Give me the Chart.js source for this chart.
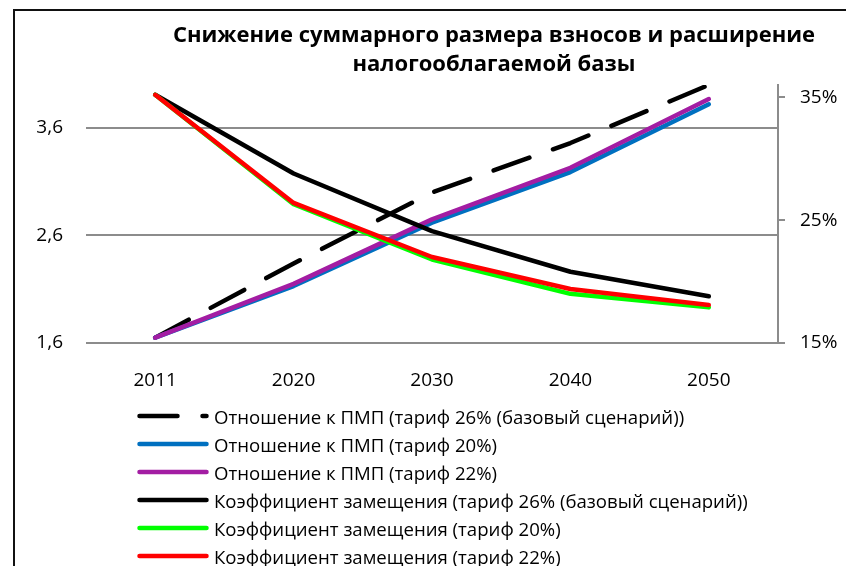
<!DOCTYPE html>
<html lang="ru">
<head>
<meta charset="utf-8">
<script src="https://cdn.jsdelivr.net/npm/chart.js@4.4.1/dist/chart.umd.min.js"></script>
<style>
  body { margin: 0; background: #fff; }
  #wrap { position: relative; width: 846px; height: 566px; overflow: hidden; font-family: "Open Sans", sans-serif; }
  #frame { position: absolute; left: 13px; top: 9px; width: 900px; height: 700px; border: 2px solid #111; }
  #title { position: absolute; left: 494px; top: 19px; transform: translateX(-50%); white-space: nowrap;
           text-align: center; font-weight: bold; font-size: 22px; line-height: 29px; color: #000; }
  canvas { position: absolute; left: 0; top: 0; }
  #legend { position: absolute; left: 137px; top: 402px; }
  .item { display: flex; align-items: center; height: 28px; font-size: 18.6px; color: #000; white-space: nowrap; }
  .item svg { margin-right: 5px; }
</style>
</head>
<body>
<div id="wrap">
  <div id="frame"></div>
  <canvas id="line-chart" width="846" height="566"></canvas>
  <div id="title">Снижение суммарного размера взносов и расширение<br>налогооблагаемой базы</div>
  <div id="legend"></div>
</div>
<script>
const years = ['2011', '2020', '2030', '2040', '2050'];

// отношение к ПМП (левая ось)
const pmp26 = [1.65, 2.34, 3.00, 3.46, 4.00];
const pmp20 = [1.65, 2.13, 2.72, 3.19, 3.82];
const pmp22 = [1.65, 2.15, 2.75, 3.23, 3.87];

// коэффициент замещения, % (правая ось)
const zam26 = [35.2, 28.8, 24.1, 20.8, 18.8];
const zam20 = [35.2, 26.3, 21.8, 19.0, 17.9];
const zam22 = [35.2, 26.4, 22.0, 19.4, 18.1];

const leftTicks = [1.6, 2.6, 3.6];
const rightTicks = [15, 25, 35];

const font = { family: 'Open Sans', size: 19 };
const gridGray = '#8c8c8c';

function series(label, data, color, axis, dash) {
  return {
    label: label,
    data: data,
    yAxisID: axis,
    borderColor: color,
    backgroundColor: color,
    borderWidth: 4.5,
    borderDash: dash || [],
    borderCapStyle: 'round',
    borderJoinStyle: 'round',
    pointRadius: 0,
    tension: 0,
    fill: false,
  };
}

const datasets = [
  series('Отношение к ПМП (тариф 26% (базовый сценарий))', pmp26, '#000000', 'y', [38, 25]),
  series('Отношение к ПМП (тариф 20%)', pmp20, '#0070C0', 'y'),
  series('Отношение к ПМП (тариф 22%)', pmp22, '#A31DA3', 'y'),
  series('Коэффициент замещения (тариф 26% (базовый сценарий))', zam26, '#000000', 'y1'),
  series('Коэффициент замещения (тариф 20%)', zam20, '#00FF00', 'y1'),
  series('Коэффициент замещения (тариф 22%)', zam22, '#FF0000', 'y1'),
];
// later series drawn on top, like Excel
datasets.forEach((d, i) => { d.order = datasets.length - i; });

const ctx = document.getElementById('line-chart').getContext('2d');

const chart = new Chart(ctx, {
  type: 'line',
  data: { labels: years, datasets: datasets },
  options: {
    responsive: false,
    animation: false,
    layout: { padding: { left: 26, right: 8, top: 85, bottom: 163 } },
    plugins: { legend: { display: false }, tooltip: { enabled: false } },
    scales: {
      x: {
        offset: true,
        grid: { display: false },
        border: { display: false },
        ticks: { color: '#000', font: font, padding: 18, maxRotation: 0, autoSkip: false },
        afterFit: s => { s.height = 60; },
      },
      y: {
        position: 'left',
        min: 1.6,
        max: 4.0,
        afterBuildTicks: s => { s.ticks = leftTicks.map(v => ({ value: v })); },
        grid: { color: gridGray, lineWidth: 2, drawTicks: false },
        border: { display: false },
        ticks: { color: '#000', font: font, padding: 23,
                 callback: v => v.toFixed(1).replace('.', ',') },
        afterFit: s => { s.width = 60; },
      },
      y1: {
        position: 'right',
        min: 15,
        max: 36,
        afterBuildTicks: s => { s.ticks = rightTicks.map(v => ({ value: v })); },
        grid: { drawOnChartArea: false, drawTicks: true, tickLength: 7, color: gridGray, lineWidth: 2 },
        border: { display: true, color: gridGray, width: 2 },
        ticks: { color: '#000', font: font, padding: 15, callback: v => v + '%' },
        afterFit: s => { s.width = 60; },
      },
    },
  },
});

// legend as a single column under the chart
const legend = document.getElementById('legend');
chart.data.datasets.forEach(d => {
  const row = document.createElement('div');
  row.className = 'item';
  const dash = d.borderDash.length ? ' stroke-dasharray="' + d.borderDash.join(' ') + '"' : '';
  row.innerHTML =
    '<svg width="72" height="8"><line x1="2.5" y1="4" x2="69.5" y2="4" stroke="' + d.borderColor +
    '" stroke-width="' + d.borderWidth + '" stroke-linecap="round"' + dash + '/></svg>' +
    '<span>' + d.label + '</span>';
  legend.appendChild(row);
});
</script>
</body>
</html>
